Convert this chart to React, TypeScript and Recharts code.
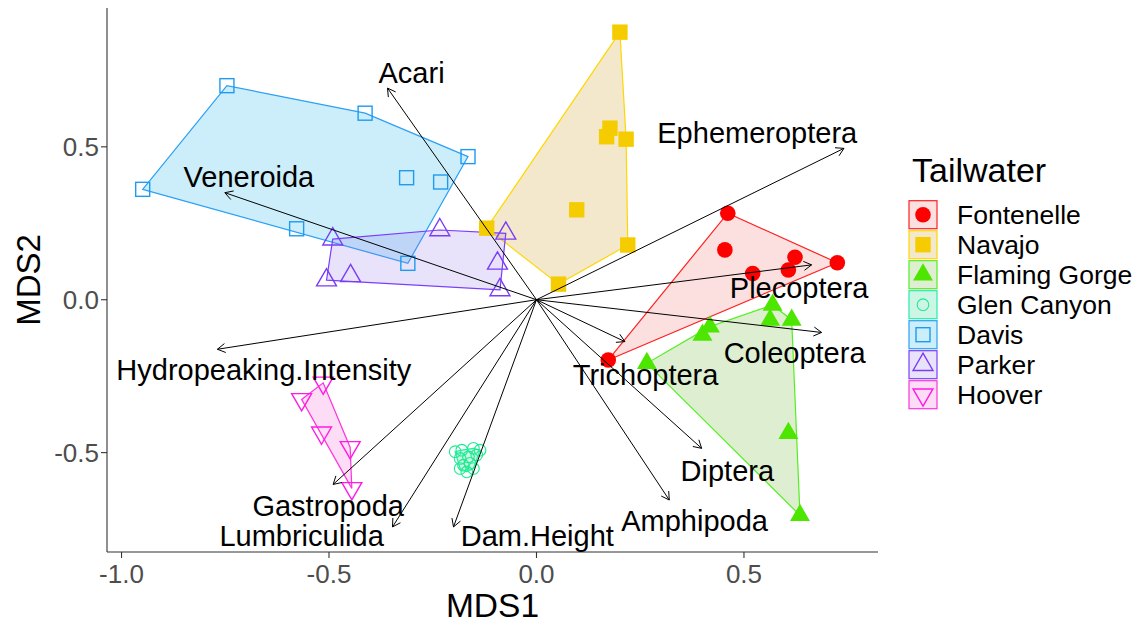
import React from 'react';
import { ScatterChart, Scatter, XAxis, YAxis } from 'recharts';

// NMDS site scores per tailwater (MDS1, MDS2)
const fontenelle: [number, number][] = [[0.461, 0.283], [0.454, 0.163], [0.521, 0.086], [0.623, 0.139], [0.607, 0.097], [0.725, 0.121], [0.173, -0.197]];
const navajo: [number, number][] = [[0.201, 0.875], [0.177, 0.561], [0.169, 0.533], [0.216, 0.525], [0.097, 0.294], [0.22, 0.179], [0.053, 0.051], [-0.12, 0.234]];
const flamingGorge: [number, number][] = [[0.569, -0.017], [0.563, -0.066], [0.615, -0.066], [0.418, -0.088], [0.4, -0.115], [0.266, -0.208], [0.607, -0.437], [0.635, -0.705]];
const glenCanyon: [number, number][] = [[-0.196, -0.497], [-0.18, -0.492], [-0.152, -0.486], [-0.136, -0.492], [-0.184, -0.519], [-0.164, -0.514], [-0.144, -0.508], [-0.176, -0.541], [-0.16, -0.535], [-0.184, -0.552], [-0.168, -0.563], [-0.152, -0.552]];
const davis: [number, number][] = [[-0.949, 0.361], [-0.746, 0.7], [-0.413, 0.61], [-0.165, 0.468], [-0.313, 0.399], [-0.231, 0.385], [-0.578, 0.232], [-0.31, 0.119]];
const parker: [number, number][] = [[-0.491, 0.198], [-0.233, 0.228], [-0.074, 0.217], [-0.094, 0.119], [-0.088, 0.032], [-0.506, 0.064], [-0.448, 0.078]];
const hoover: [number, number][] = [[-0.514, -0.272], [-0.566, -0.326], [-0.518, -0.435], [-0.449, -0.483], [-0.445, -0.617]];

// Fitted taxa / environmental vectors: arrow tip and label anchor
const vectorNames = ['Acari', 'Veneroida', 'Ephemeroptera', 'Plecoptera', 'Coleoptera', 'Trichoptera', 'Diptera', 'Amphipoda', 'Dam.Height', 'Lumbriculida', 'Gastropoda', 'Hydropeaking.Intensity'];
const vectorTips: [number, number][] = [[-0.359, 0.692], [-0.751, 0.35], [0.741, 0.495], [0.663, 0.114], [0.687, -0.107], [0.213, -0.137], [0.398, -0.486], [0.32, -0.655], [-0.2, -0.743], [-0.347, -0.743], [-0.49, -0.604], [-0.769, -0.162]];
const labelAnchors: [number, number][] = [[-0.301, 0.744], [-0.693, 0.403], [0.532, 0.548], [0.633, 0.04], [0.622, -0.173], [0.263, -0.244], [0.46, -0.56], [0.381, -0.724], [0.002, -0.772], [-0.566, -0.772], [-0.502, -0.672], [-0.657, -0.23]];

const xTicks = [-1, -0.5, 0, 0.5];
const yTicks = [-0.5, 0, 0.5];

const FONT = '"Liberation Sans", Arial, Helvetica, sans-serif';

type Kind = 'dot' | 'square' | 'triangle' | 'ring' | 'openSquare' | 'openTriangle' | 'openDown';

interface Group {
  name: string;
  pts: [number, number][];
  kind: Kind;
  color: string;
  edge: string;
  fill: string;
}

const groups: Group[] = [
  { name: 'Fontenelle', pts: fontenelle, kind: 'dot', color: '#FF0000', edge: '#FF2020', fill: 'rgb(240,100,100)' },
  { name: 'Navajo', pts: navajo, kind: 'square', color: '#F5CC00', edge: '#FFD700', fill: 'rgb(195,140,0)' },
  { name: 'Flaming Gorge', pts: flamingGorge, kind: 'triangle', color: '#4DE600', edge: '#55EE22', fill: 'rgb(85,175,20)' },
  { name: 'Glen Canyon', pts: glenCanyon, kind: 'ring', color: '#1DEB8E', edge: '#22EEAA', fill: 'rgb(0,205,130)' },
  { name: 'Davis', pts: davis, kind: 'openSquare', color: '#1E9BF0', edge: '#2AA0F5', fill: 'rgb(0,170,230)' },
  { name: 'Parker', pts: parker, kind: 'openTriangle', color: '#7B3CF5', edge: '#7A3CFF', fill: 'rgb(140,115,235)' },
  { name: 'Hoover', pts: hoover, kind: 'openDown', color: '#FF1AE6', edge: '#FF33DD', fill: 'rgb(240,85,205)' },
];

// Monotone-chain convex hull
function convexHull(pts: [number, number][]): [number, number][] {
  const p = [...pts].sort((a, b) => a[0] - b[0] || a[1] - b[1]);
  const cross = (o: number[], a: number[], b: number[]) => (a[0] - o[0]) * (b[1] - o[1]) - (a[1] - o[1]) * (b[0] - o[0]);
  const lower: [number, number][] = [];
  for (const q of p) {
    while (lower.length >= 2 && cross(lower[lower.length - 2], lower[lower.length - 1], q) <= 0) lower.pop();
    lower.push(q);
  }
  const upper: [number, number][] = [];
  for (let i = p.length - 1; i >= 0; i--) {
    const q = p[i];
    while (upper.length >= 2 && cross(upper[upper.length - 2], upper[upper.length - 1], q) <= 0) upper.pop();
    upper.push(q);
  }
  upper.pop();
  lower.pop();
  return lower.concat(upper);
}

const toRows = (pts: [number, number][]) => pts.map(([x, y]) => ({ x, y }));

// Marker glyph drawn around a centre point
function Glyph({ kind, cx, cy, color }: { kind: Kind; cx: number; cy: number; color: string }) {
  const tri = (dir: number) => {
    const r = 11.5;
    const xc = r * Math.sqrt(3) / 2;
    return `M${cx},${cy - dir * r}L${cx + xc},${cy + dir * r / 2}L${cx - xc},${cy + dir * r / 2}Z`;
  };
  switch (kind) {
    case 'dot':
      return <circle cx={cx} cy={cy} r={7.8} fill={color} />;
    case 'square':
      return <rect x={cx - 7.7} y={cy - 7.7} width={15.4} height={15.4} fill={color} />;
    case 'triangle':
      return <path d={tri(1)} fill={color} />;
    case 'ring':
      return <circle cx={cx} cy={cy} r={5.8} fill="none" stroke={color} strokeWidth={1.1} />;
    case 'openSquare':
      return <rect x={cx - 7} y={cy - 7} width={14} height={14} fill="none" stroke={color} strokeWidth={1.4} />;
    case 'openTriangle':
      return <path d={tri(1)} fill="none" stroke={color} strokeWidth={1.4} />;
    case 'openDown':
      return <path d={tri(-1)} fill="none" stroke={color} strokeWidth={1.4} />;
  }
  return null;
}

const empty = () => <g />;

// Arrows from the ordination origin (first point) to every vector tip
const arrowLines = (props: any) => {
  const pts = props.points as { x: number; y: number }[];
  const o = pts[0];
  const L = 9;
  const half = Math.PI / 6;
  const d = pts.slice(1).map((b) => {
    const ang = Math.atan2(b.y - o.y, b.x - o.x);
    const p1x = b.x - L * Math.cos(ang - half);
    const p1y = b.y - L * Math.sin(ang - half);
    const p2x = b.x - L * Math.cos(ang + half);
    const p2y = b.y - L * Math.sin(ang + half);
    return `M${o.x},${o.y}L${b.x},${b.y}M${p1x},${p1y}L${b.x},${b.y}L${p2x},${p2y}`;
  }).join('');
  return <path d={d} stroke="#000" strokeWidth={1} fill="none" />;
};

const arrowRows = [{ x: 0, y: 0 }, ...vectorTips.map(([x, y]) => ({ x, y }))];
const labelRows = labelAnchors.map(([x, y], i) => ({ x, y, name: vectorNames[i] }));

const LABEL_SIZE = 29;
const W = 1130;
const H = 618;

function Legend() {
  return (
    <svg width={W} height={H} style={{ position: 'absolute', left: 0, top: 0, pointerEvents: 'none' }}>
      <text x={904} y={174} fontSize={34} fontFamily={FONT} fill="#000">Tailwater</text>
      {groups.map((g, i) => {
        const top = 192.7 + 30 * i;
        return (
          <g key={g.name}>
            <rect x={901} y={top} width={28} height={28} fill={g.fill} fillOpacity={0.2} stroke={g.edge} strokeWidth={1.2} />
            <Glyph kind={g.kind} cx={915} cy={top + 14} color={g.color} />
            <text x={949} y={top + 14 + 9.6} fontSize={26.5} fontFamily={FONT} fill="#000">{g.name}</text>
          </g>
        );
      })}
    </svg>
  );
}

export default function App() {
  const tickStyle = { fill: '#4D4D4D', fontSize: 26, fontFamily: FONT };
  return (
    <div style={{ position: 'relative', width: W, height: H }}>
      <ScatterChart width={W} height={H} margin={{ top: 0, right: 260, bottom: 0, left: 0 }}>
        <XAxis
          type="number"
          dataKey="x"
          domain={[-1.035, 0.823]}
          allowDataOverflow
          ticks={xTicks}
          tickFormatter={(v: number) => v.toFixed(1)}
          tick={tickStyle}
          tickSize={6}
          tickMargin={7}
          height={74}
          axisLine={{ stroke: '#333', strokeWidth: 1.1 }}
          tickLine={{ stroke: '#333', strokeWidth: 1.1 }}
          label={{
            content: (p: any) => {
              const vb = p.viewBox;
              return (
                <text x={vb.x + vb.width / 2} y={vb.y + 65} textAnchor="middle" fontSize={33.5} fontFamily={FONT} fill="#000">MDS1</text>
              );
            },
          }}
        />
        <YAxis
          type="number"
          dataKey="y"
          domain={[-0.825, 0.954]}
          allowDataOverflow
          ticks={yTicks}
          tickFormatter={(v: number) => v.toFixed(1)}
          tick={tickStyle}
          tickSize={6}
          tickMargin={2}
          width={99}
          axisLine={{ stroke: '#333', strokeWidth: 1.1 }}
          tickLine={{ stroke: '#333', strokeWidth: 1.1 }}
          label={{
            content: (p: any) => {
              const vb = p.viewBox;
              const cx = 20;
              const cy = vb.y + vb.height / 2;
              return (
                <text x={cx} y={cy} transform={`rotate(-90 ${cx} ${cy})`} dy={11.8} textAnchor="middle" fontSize={33} fontFamily={FONT} fill="#000">MDS2</text>
              );
            },
          }}
        />

        {groups.map((g) => (
          <Scatter
            key={`hull-${g.name}`}
            name={`hull-${g.name}`}
            data={toRows(convexHull(g.pts))}
            shape={empty}
            line={{ fill: g.fill, fillOpacity: 0.2, stroke: g.edge, strokeWidth: 1.2 }}
            lineType="joint"
            lineJointType="linearClosed"
            legendType="none"
            isAnimationActive={false}
          />
        ))}

        {groups.map((g) => (
          <Scatter
            key={`pts-${g.name}`}
            name={g.name}
            data={toRows(g.pts)}
            shape={(p: any) => <Glyph kind={g.kind} cx={p.cx} cy={p.cy} color={g.color} />}
            isAnimationActive={false}
          />
        ))}

        <Scatter
          name="vectors"
          data={arrowRows}
          shape={empty}
          line={arrowLines}
          lineType="joint"
          isAnimationActive={false}
        />

        <Scatter
          name="vector-labels"
          data={labelRows}
          shape={(p: any) => (
            <text x={p.cx} y={p.cy + 0.358 * LABEL_SIZE} textAnchor="middle" fontSize={LABEL_SIZE} fontFamily={FONT} fill="#000">
              {p.payload.name}
            </text>
          )}
          isAnimationActive={false}
        />
      </ScatterChart>
      <Legend />
    </div>
  );
}
